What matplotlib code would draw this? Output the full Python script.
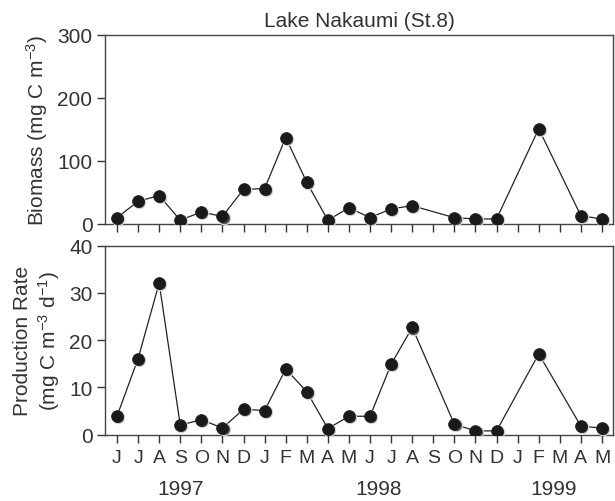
import numpy as np
import matplotlib.pyplot as plt
from matplotlib import transforms

plt.rcParams['font.family'] = ['Liberation Sans', 'DejaVu Sans']
plt.rcParams['text.color'] = '#333333'
plt.rcParams['axes.labelcolor'] = '#333333'
plt.rcParams['xtick.color'] = '#333333'
plt.rcParams['ytick.color'] = '#333333'

months = ['J', 'J', 'A', 'S', 'O', 'N', 'D', 'J', 'F', 'M', 'A', 'M',
          'J', 'J', 'A', 'S', 'O', 'N', 'D', 'J', 'F', 'M', 'A', 'M']
years = ['1997', '1998', '1999']
year_pos = [3.0, 12.4, 20.7]

# nan = no sample that month
biomass = [10, 36, 45, 6, 19, 12, 55, 56, 137, 66, 6, 26,
           10, 24, 29, np.nan, 10, 8, 8, np.nan, 151, np.nan, 13, 8]
production = [3.9, 16.1, 32.1, 2.0, 3.2, 1.4, 5.4, 5.1, 13.9, 9.1, 1.3, 3.9,
              3.9, 14.9, 22.7, np.nan, 2.2, 0.8, 0.8, np.nan, 17.1, np.nan, 1.8, 1.4]

x = np.arange(len(months))

fig = plt.figure(figsize=(6.15, 5.02), dpi=100)
ax1 = fig.add_axes([0.1707, 0.5518, 0.826, 0.377])
ax2 = fig.add_axes([0.1707, 0.1321, 0.826, 0.3765])


def draw(ax, vals):
    vals = np.array(vals, dtype=float)
    ok = ~np.isnan(vals)
    ax.plot(x[ok], vals[ok], '-', color='#222222', lw=0.9, zorder=2)
    shadow = transforms.offset_copy(ax.transData, fig=fig, x=0.8, y=-0.8, units='points')
    ax.plot(x[ok], vals[ok], 'o', ms=9, mfc='#555555', mec='#dddddd', mew=0.8,
            transform=shadow, zorder=3)
    ax.plot(x[ok], vals[ok], 'o', ms=8.5, mfc='#1a1a1a', mec='#1a1a1a', mew=0.5, zorder=4)
    ax.set_xlim(-0.57, 23.52)
    ax.set_xticks(x)
    for s in ax.spines.values():
        s.set_linewidth(1.0)
        s.set_color('#444444')
    ax.tick_params(axis='both', direction='out', length=6, width=1.0, labelsize=15)
    ax.tick_params(axis='x', pad=4, labelsize=14)
    ax.tick_params(axis='y', pad=3)


draw(ax1, biomass)
ax1.set_ylim(0, 300)
ax1.set_yticks([0, 100, 200, 300])
ax1.set_xticklabels([])
ax1.set_ylabel(r'Biomass (mg C $\mathregular{m^{-3}}$)', fontsize=15, labelpad=5)
ax1.set_title('Lake Nakaumi (St.8)', fontsize=15, pad=6)

draw(ax2, production)
ax2.set_ylim(0, 40)
ax2.set_yticks([0, 10, 20, 30, 40])
ax2.set_xticklabels(months)
ax2.set_ylabel('Production Rate\n' + r'(mg C $\mathregular{m^{-3}}$ $\mathregular{d^{-1}}$)',
               fontsize=15, labelpad=5, linespacing=1.2)

trans = transforms.blended_transform_factory(ax2.transData, ax2.transAxes)
for yr, xp in zip(years, year_pos):
    ax2.text(xp, -0.287, yr, transform=trans, ha='center', va='center', fontsize=15)

fig.savefig('out.png', dpi=100)
